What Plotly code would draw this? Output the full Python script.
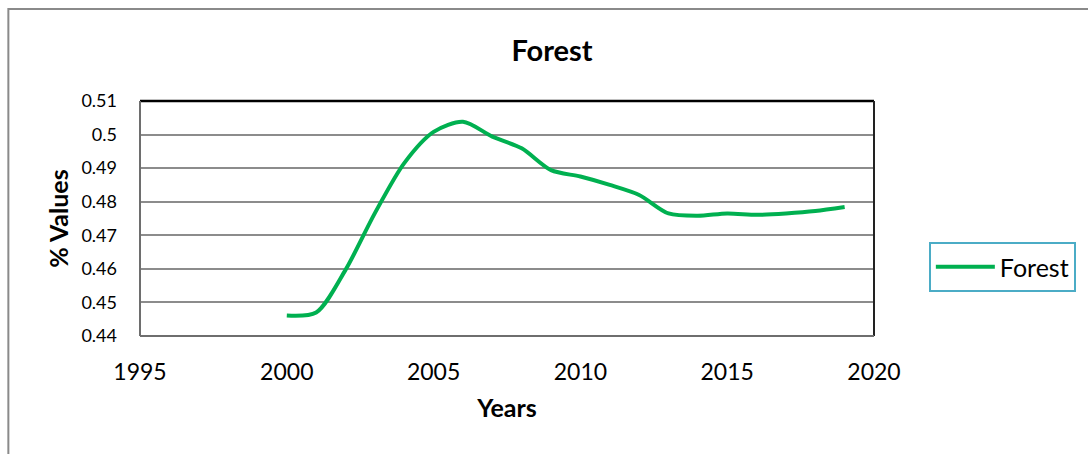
import plotly.graph_objects as go

years = [2000, 2001, 2002, 2003, 2004, 2005, 2006, 2007, 2008, 2009,
         2010, 2011, 2012, 2013, 2014, 2015, 2016, 2017, 2018, 2019]
forest = [0.4461, 0.4470, 0.4597, 0.4766, 0.4915, 0.5008, 0.5038, 0.4994, 0.4959, 0.4894,
          0.4875, 0.4850, 0.4820, 0.4765, 0.4758, 0.4765, 0.4761, 0.4765, 0.4772, 0.4784]

x_ticks = [1995, 2000, 2005, 2010, 2015, 2020]
y_ticks = [0.44, 0.45, 0.46, 0.47, 0.48, 0.49, 0.5, 0.51]
y_tick_labels = ["0.44", "0.45", "0.46", "0.47", "0.48", "0.49", "0.5", "0.51"]

W, H = 1088, 454
L, R, T, B = 140, 212, 101, 118
pw, ph = W - L - R, H - T - B

def px(x):
    return (x - L) / pw

def py(y):
    return (H - B - y) / ph

FONT = "Lato"
fig = go.Figure()
fig.add_trace(go.Scatter(
    x=years, y=forest, mode="lines", name="Forest",
    line=dict(color="#00B050", width=4, shape="spline", smoothing=0.8),
))

fig.update_layout(
    width=W, height=H,
    margin=dict(l=L, r=R, t=T, b=B),
    paper_bgcolor="white", plot_bgcolor="white",
    font=dict(family=FONT, color="black"),
    title=dict(text="<b>Forest</b>", x=552 / W, xref="container", xanchor="center",
               y=1 - 51 / H, yref="container", yanchor="middle",
               font=dict(size=29, family=FONT, color="black")),
    xaxis=dict(range=[1995, 2020], tickvals=x_ticks, ticktext=[str(v) for v in x_ticks],
               showgrid=False, zeroline=False, showline=False, ticks="",
               tickfont=dict(size=23, family=FONT), ticklabelstandoff=20,
               title=dict(text="<b>Years</b>", font=dict(size=25, family=FONT), standoff=15)),
    yaxis=dict(range=[0.44, 0.51], tickvals=y_ticks, ticktext=y_tick_labels,
               showgrid=True, gridcolor="#8C8C8C", gridwidth=1.5, zeroline=False,
               showline=False, ticks="", tickfont=dict(size=18, family=FONT),
               ticklabelstandoff=22,
               title=dict(text="<b>% Values</b>", font=dict(size=25, family=FONT), standoff=5)),
    legend=dict(x=px(931), y=py(242), xanchor="left", yanchor="top",
                bordercolor="#4BACC6", borderwidth=2, bgcolor="white",
                itemwidth=59,
                font=dict(size=25, family=FONT)),
    shapes=[
        # outer chart frame
        dict(type="rect", xref="paper", yref="paper",
             x0=px(8), x1=px(1100), y0=py(9), y1=py(470),
             line=dict(color="#8A8A8A", width=2), layer="below"),
        # plot area border
        dict(type="line", xref="paper", yref="paper", x0=0, x1=1, y0=1, y1=1,
             line=dict(color="black", width=2.5)),
        dict(type="line", xref="paper", yref="paper", x0=1, x1=1, y0=0, y1=1,
             line=dict(color="#222222", width=2)),
        dict(type="line", xref="paper", yref="paper", x0=0, x1=0, y0=0, y1=1,
             line=dict(color="#6E6E6E", width=2)),
        dict(type="line", xref="paper", yref="paper", x0=0, x1=1, y0=0, y1=0,
             line=dict(color="#6E6E6E", width=2)),
    ],
    showlegend=True,
)

fig.write_html("out.html")
